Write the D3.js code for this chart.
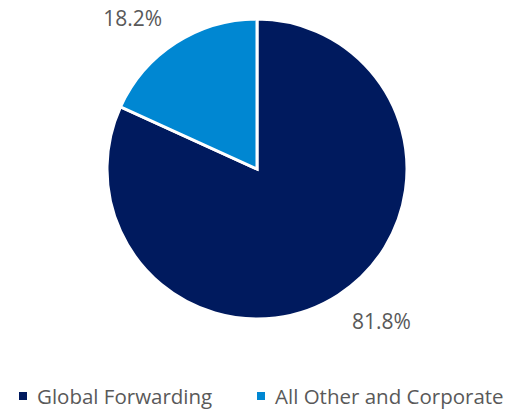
<!DOCTYPE html>
<html>
<head>
<meta charset="utf-8">
<script src="https://cdn.jsdelivr.net/npm/d3@7"></script>
<style>
  html, body { margin: 0; padding: 0; background: #fff; }
  svg { display: block; }
  text { font-family: "Open Sans", "Noto Sans", sans-serif; fill: #595959; }
</style>
</head>
<body>
<svg id="chart" width="521" height="410"></svg>
<script>
const categories = ["Global Forwarding", "All Other and Corporate"];
const values = [81.8, 18.2];
const labels = ["81.8%", "18.2%"];
const colors = ["#001a5e", "#0087d2"];

const svg = d3.select("#chart");
const cx = 257, cy = 169, r = 150;

const pie = d3.pie().sort(null).value(d => d)(values);
const arc = d3.arc().innerRadius(0).outerRadius(r);

const g = svg.append("g").attr("transform", `translate(${cx},${cy})`);
g.selectAll("path")
  .data(pie)
  .join("path")
  .attr("d", arc)
  .attr("fill", (d, i) => colors[i])
  .attr("stroke", "#fff")
  .attr("stroke-width", 3)
  .attr("stroke-linejoin", "miter");

// Outside value labels placed along each slice's mid-angle
const labelArc = d3.arc().innerRadius(r + 30).outerRadius(r + 30);
const labelOffsets = [[27, 1], [-27, 0]];
g.selectAll("text.val")
  .data(pie)
  .join("text")
  .attr("class", "val")
  .attr("x", (d, i) => labelArc.centroid(d)[0] + labelOffsets[i][0])
  .attr("y", (d, i) => labelArc.centroid(d)[1] + labelOffsets[i][1])
  .attr("text-anchor", "middle")
  .attr("dominant-baseline", "central")
  .attr("font-size", 21)
  .text((d, i) => labels[i]);

// Legend
const legendX = [19, 257];
const legend = svg.append("g");
categories.forEach((c, i) => {
  legend.append("rect")
    .attr("x", legendX[i]).attr("y", 392)
    .attr("width", 8).attr("height", 8)
    .attr("fill", colors[i]);
  legend.append("text")
    .attr("x", legendX[i] + 18).attr("y", 396)
    .attr("dominant-baseline", "central")
    .attr("font-size", 20.5)
    .text(c);
});
</script>
</body>
</html>
